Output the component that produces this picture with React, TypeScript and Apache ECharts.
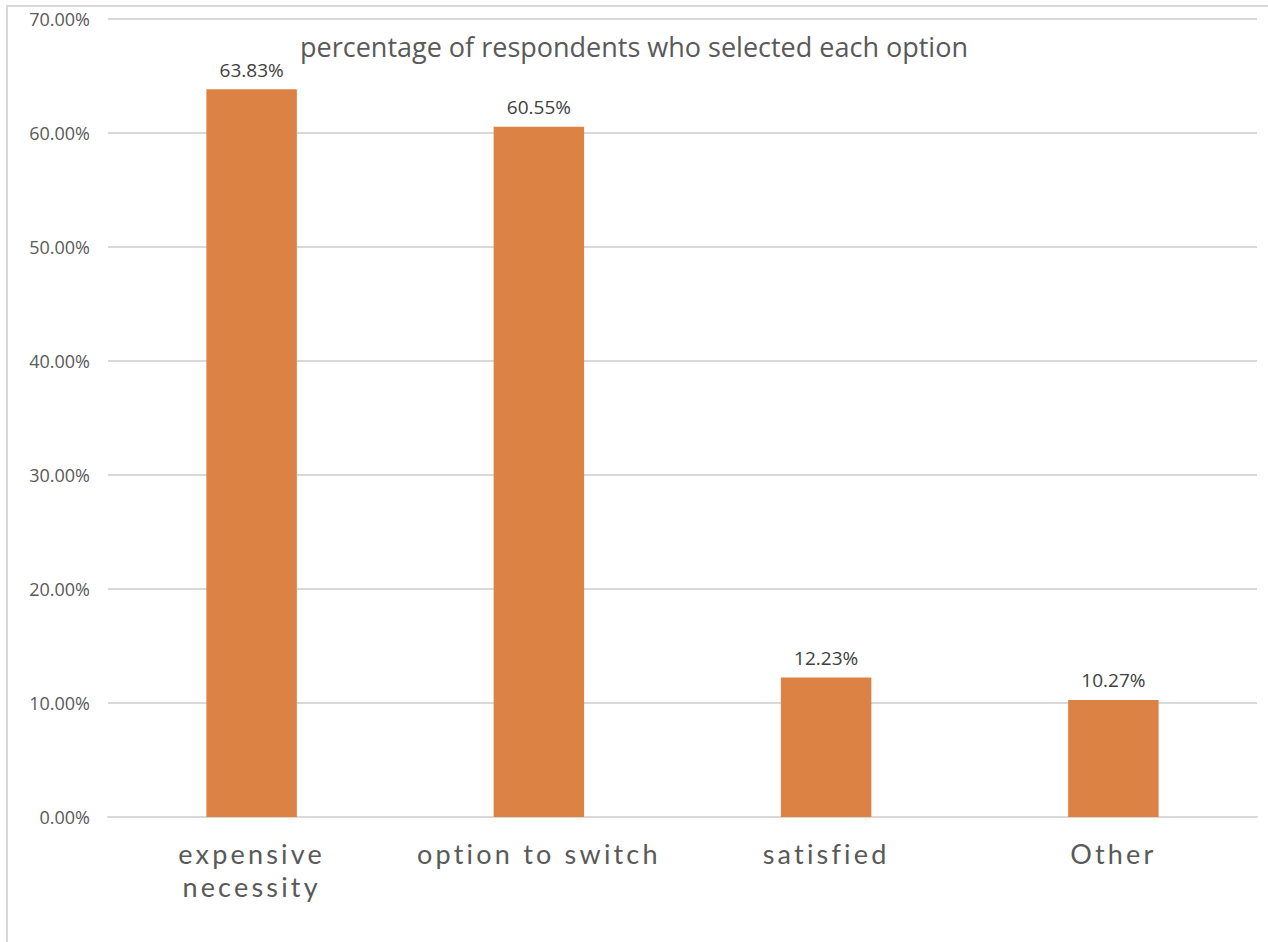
import React, { useEffect, useRef } from "react";
import * as echarts from "echarts";

const categories = ["expensive\nnecessity", "option to switch", "satisfied", "Other"];
const values = [63.83, 60.55, 12.23, 10.27];
const titleText = "percentage of respondents who selected each option";
const yMin = 0;
const yMax = 70;
const yInterval = 10;

export default function App() {
  const ref = useRef<HTMLDivElement>(null);
  useEffect(() => {
    if (!ref.current) return;
    const chart = echarts.init(ref.current, null, { renderer: "svg" });
    chart.setOption({
      animation: false,
      backgroundColor: "#ffffff",
      title: {
        text: titleText,
        left: "center",
        top: 28,
        textStyle: {
          fontFamily: "Open Sans",
          fontSize: 27,
          fontWeight: "normal",
          color: "#595959",
        },
      },
      graphic: [
        {
          type: "rect",
          shape: { x: 7, y: 6, width: 1400, height: 1100 },
          style: { fill: "none", stroke: "#d9d9d9", lineWidth: 2 },
          silent: true,
        },
      ],
      grid: { left: 108, right: 11, top: 19, bottom: 125, containLabel: false },
      xAxis: {
        type: "category",
        data: categories,
        axisLine: { show: true, lineStyle: { color: "#d9d9d9", width: 2 } },
        axisTick: { show: false },
        axisLabel: {
          fontFamily: "Lato",
          fontSize: 27,
          color: "#595959",
          margin: 20,
          lineHeight: 33,
          interval: 0,
        },
      },
      yAxis: {
        type: "value",
        min: yMin,
        max: yMax,
        interval: yInterval,
        axisLine: { show: false },
        axisTick: { show: false },
        splitLine: { lineStyle: { color: "#d9d9d9", width: 2 } },
        axisLabel: {
          fontFamily: "Open Sans",
          fontSize: 18,
          color: "#595959",
          margin: 18,
          formatter: (v: number) => v.toFixed(2) + "%",
        },
      },
      series: [
        {
          type: "bar",
          data: values,
          barWidth: "31.5%",
          itemStyle: { color: "#dc8244" },
          label: {
            show: true,
            position: "top",
            distance: 10,
            fontFamily: "Open Sans",
            fontSize: 19,
            color: "#404040",
            formatter: (p: any) => p.value.toFixed(2) + "%",
          },
        },
      ],
    });
    return () => chart.dispose();
  }, []);
  return (
    <>
      <style>{'text[style*="Lato"] { letter-spacing: 3.2px; }'}</style>
      <div
        ref={ref}
        style={{ position: "fixed", left: 0, top: 0, width: 1268, height: 942 }}
      />
    </>
  );
}
